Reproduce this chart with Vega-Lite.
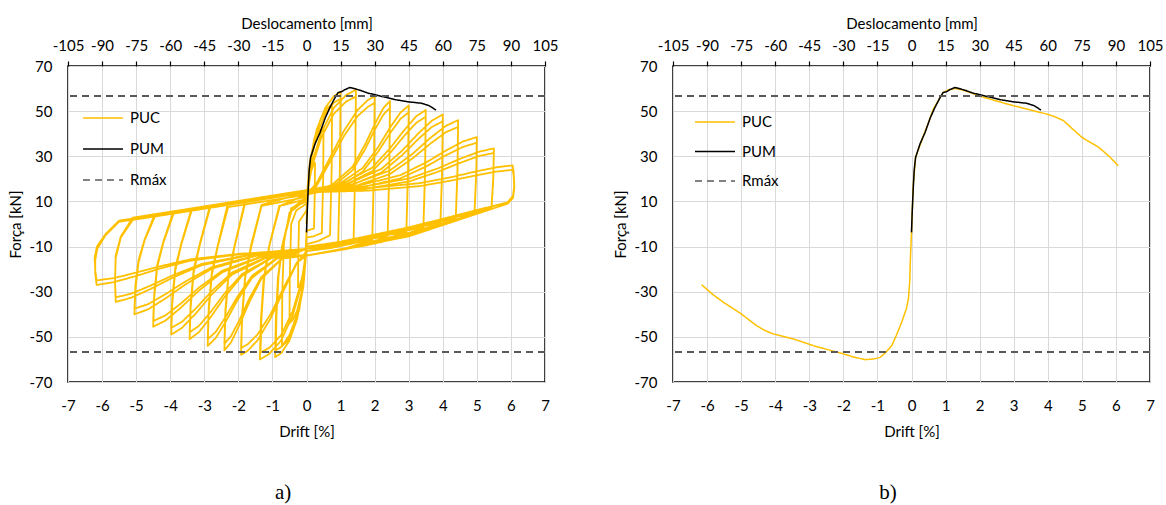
{
"$schema": "https://vega.github.io/schema/vega-lite/v6.json",
"background": "white",
"padding": {"left": 7, "top": 15, "right": 5, "bottom": 5},
"bounds": "flush",
"spacing": 128,
"config": {
 "font": "Lato",
 "view": {"stroke": "black", "strokeWidth": 1.5},
 "axis": {"labelFont": "Lato", "labelFontSize": 15, "labelColor": "#000000", "labelOverlap": false, "labelFlush": false, "labelExpr": "'' + datum.value", "titleFont": "Lato", "titleFontSize": 15, "titleFontWeight": "normal", "titleColor": "#000000", "gridColor": "#d9d9d9", "gridWidth": 1, "domain": false, "ticks": false},
 "legend": {"title": null, "orient": "none", "symbolType": "stroke", "symbolSize": 1600, "symbolStrokeWidth": 1.6, "labelFont": "Lato", "labelFontSize": 15, "labelColor": "#000000", "labelOffset": 6, "rowPadding": 2, "padding": 0}
},
"resolve": {"scale": {"color": "independent", "strokeDash": "independent"}},
"datasets": {
 "puc": [
{"x":0,"y":0},
{"x":0.025,"y":11.4},{"x":0.075,"y":18.6},{"x":0.1375,"y":23.4},{"x":0.2,"y":26},{"x":0.25,"y":27},{"x":0.24,"y":12},{"x":0.22,"y":-2},{"x":0,"y":-3},{"x":-0.025,"y":-11.75},{"x":-0.075,"y":-19.25},{"x":-0.1375,"y":-24.25},{"x":-0.2,"y":-27},{"x":-0.25,"y":-28},{"x":-0.24,"y":-14},{"x":-0.22,"y":1},{"x":0,"y":6},
{"x":0.05,"y":18.95},{"x":0.15,"y":30.05},{"x":0.275,"y":37.45},{"x":0.4,"y":41.5},{"x":0.5,"y":43},{"x":0.49,"y":20},{"x":0.45,"y":-4},{"x":0.2,"y":-5.5},{"x":0,"y":-6},{"x":-0.05,"y":-19.3},{"x":-0.15,"y":-30.7},{"x":-0.275,"y":-38.3},{"x":-0.4,"y":-42.5},{"x":-0.5,"y":-44},{"x":-0.49,"y":-22},{"x":-0.45,"y":0},{"x":-0.3,"y":6},{"x":0,"y":9},
{"x":0.075,"y":24.4},{"x":0.225,"y":37.6},{"x":0.4125,"y":46.4},{"x":0.6,"y":51.2},{"x":0.75,"y":53},{"x":0.74,"y":25},{"x":0.69,"y":-5},{"x":0.35,"y":-7.5},{"x":0,"y":-9},{"x":-0.072,"y":-24.75},{"x":-0.216,"y":-38.25},{"x":-0.396,"y":-47.25},{"x":-0.576,"y":-52.2},{"x":-0.72,"y":-54},{"x":-0.71,"y":-30},{"x":-0.66,"y":-8},{"x":-0.5,"y":5},{"x":0,"y":11},
{"x":0.1,"y":27.6},{"x":0.3,"y":41.9},{"x":0.55,"y":51.4},{"x":0.8,"y":56.6},{"x":1,"y":58.5},{"x":0.98,"y":25},{"x":0.93,"y":-8.5},{"x":0.5,"y":-10},{"x":0,"y":-11},{"x":-0.092,"y":-27.8},{"x":-0.276,"y":-42.2},{"x":-0.506,"y":-51.8},{"x":-0.736,"y":-57.1},{"x":-0.92,"y":-59},{"x":-0.9,"y":-42},{"x":-0.84,"y":-24},{"x":-0.72,"y":-10},{"x":-0.45,"y":7},{"x":0,"y":10},
{"x":0.1,"y":25.9},{"x":0.3,"y":39.6},{"x":0.55,"y":48.7},{"x":0.8,"y":53.7},{"x":1,"y":55.5},{"x":0.98,"y":24},{"x":0.93,"y":-8},{"x":0.5,"y":-9},{"x":0,"y":-10},{"x":-0.09,"y":-26.1},{"x":-0.27,"y":-39.9},{"x":-0.495,"y":-49.1},{"x":-0.72,"y":-54.2},{"x":-0.9,"y":-56},{"x":-0.88,"y":-40},{"x":-0.82,"y":-23},{"x":-0.7,"y":-9},{"x":-0.42,"y":7},{"x":0,"y":12},
{"x":0.145,"y":26.25},{"x":0.435,"y":40.5},{"x":0.8,"y":51.4},{"x":1.16,"y":57.1},{"x":1.45,"y":59.5},{"x":1.43,"y":25},{"x":1.38,"y":-8.5},{"x":0.7,"y":-10.7},{"x":0,"y":-12},{"x":-0.137,"y":-26.4},{"x":-0.411,"y":-40.8},{"x":-0.754,"y":-51.8},{"x":-1.096,"y":-57.6},{"x":-1.37,"y":-60},{"x":-1.34,"y":-43},{"x":-1.26,"y":-25},{"x":-1.1,"y":-10},{"x":-0.8,"y":8},{"x":0,"y":11},
{"x":0.145,"y":24.65},{"x":0.435,"y":38.3},{"x":0.8,"y":48.8},{"x":1.16,"y":54.2},{"x":1.45,"y":56.5},{"x":1.43,"y":24},{"x":1.38,"y":-8},{"x":0.7,"y":-10},{"x":0,"y":-11},{"x":-0.135,"y":-24.8},{"x":-0.405,"y":-38.6},{"x":-0.743,"y":-49.2},{"x":-1.08,"y":-54.7},{"x":-1.35,"y":-57},{"x":-1.32,"y":-41},{"x":-1.24,"y":-24},{"x":-1.08,"y":-9},{"x":-0.78,"y":8},{"x":0,"y":13},
{"x":0.3,"y":18.2},{"x":0.7,"y":29.6},{"x":1.1,"y":41.3},{"x":1.5,"y":50.5},{"x":1.8,"y":54.9},{"x":2,"y":56.6},{"x":1.98,"y":25},{"x":1.93,"y":-6.8},{"x":1,"y":-9.7},{"x":0,"y":-12},{"x":-0.288,"y":-17.5},{"x":-0.672,"y":-29.5},{"x":-1.056,"y":-41.9},{"x":-1.44,"y":-51.6},{"x":-1.728,"y":-56.2},{"x":-1.92,"y":-58},{"x":-1.89,"y":-42},{"x":-1.8,"y":-24},{"x":-1.62,"y":-10},{"x":-1.32,"y":8},{"x":0,"y":12},
{"x":0.3,"y":17},{"x":0.7,"y":27.8},{"x":1.1,"y":39},{"x":1.5,"y":47.8},{"x":1.8,"y":51.9},{"x":2,"y":53.6},{"x":1.98,"y":23},{"x":1.93,"y":-7},{"x":1,"y":-11.5},{"x":0,"y":-14},{"x":-0.288,"y":-17.2},{"x":-0.672,"y":-28.3},{"x":-1.056,"y":-40},{"x":-1.44,"y":-49},{"x":-1.728,"y":-53.3},{"x":-1.92,"y":-55},{"x":-1.89,"y":-40},{"x":-1.8,"y":-23},{"x":-1.62,"y":-9},{"x":-1.32,"y":8.5},{"x":0,"y":14},
{"x":0.735,"y":17.2},{"x":1.35,"y":25.3},{"x":1.715,"y":35.1},{"x":2.01,"y":44.4},{"x":2.254,"y":51.3},{"x":2.45,"y":54.5},{"x":2.43,"y":25},{"x":2.38,"y":-5.5},{"x":1.2,"y":-8},{"x":0,"y":-11},{"x":-0.723,"y":-15.5},{"x":-1.326,"y":-24.3},{"x":-1.687,"y":-34.9},{"x":-1.976,"y":-45},{"x":-2.217,"y":-52.5},{"x":-2.41,"y":-56},{"x":-2.38,"y":-40},{"x":-2.29,"y":-23.5},{"x":-2.11,"y":-10},{"x":-1.81,"y":8.7},{"x":-0.9,"y":10.8},{"x":0,"y":13},
{"x":0.735,"y":16.1},{"x":1.35,"y":23.8},{"x":1.715,"y":33},{"x":2.01,"y":41.9},{"x":2.254,"y":48.4},{"x":2.45,"y":51.5},{"x":2.43,"y":23},{"x":2.38,"y":-5.8},{"x":1.2,"y":-11},{"x":0,"y":-14},{"x":-0.723,"y":-15.3},{"x":-1.326,"y":-23.5},{"x":-1.687,"y":-33.3},{"x":-1.976,"y":-42.8},{"x":-2.217,"y":-49.7},{"x":-2.41,"y":-53},{"x":-2.38,"y":-38},{"x":-2.29,"y":-22},{"x":-2.11,"y":-9.5},{"x":-1.81,"y":9.7},{"x":-0.9,"y":11.8},{"x":0,"y":14},
{"x":0.9,"y":17.1},{"x":1.65,"y":24.8},{"x":2.1,"y":34},{"x":2.46,"y":42.9},{"x":2.76,"y":49.4},{"x":3,"y":52.5},{"x":2.98,"y":24},{"x":2.93,"y":-3.5},{"x":1.5,"y":-7},{"x":0,"y":-11},{"x":-0.87,"y":-15.4},{"x":-1.595,"y":-23.8},{"x":-2.03,"y":-33.8},{"x":-2.378,"y":-43.5},{"x":-2.668,"y":-50.6},{"x":-2.9,"y":-54},{"x":-2.87,"y":-39},{"x":-2.78,"y":-22.7},{"x":-2.6,"y":-9.7},{"x":-2.3,"y":7.5},{"x":-1.15,"y":10.2},{"x":0,"y":13},
{"x":0.9,"y":15.9},{"x":1.65,"y":23.2},{"x":2.1,"y":32},{"x":2.46,"y":40.4},{"x":2.76,"y":46.6},{"x":3,"y":49.5},{"x":2.98,"y":22},{"x":2.93,"y":-3.8},{"x":1.5,"y":-10},{"x":0,"y":-14},{"x":-0.87,"y":-15.1},{"x":-1.595,"y":-22.9},{"x":-2.03,"y":-32.3},{"x":-2.378,"y":-41.3},{"x":-2.668,"y":-47.9},{"x":-2.9,"y":-51},{"x":-2.87,"y":-37},{"x":-2.78,"y":-21.4},{"x":-2.6,"y":-9.2},{"x":-2.3,"y":9.5},{"x":-1.15,"y":12.2},{"x":0,"y":15},
{"x":1.05,"y":17.8},{"x":1.925,"y":24.9},{"x":2.45,"y":33.5},{"x":2.87,"y":41.6},{"x":3.22,"y":47.7},{"x":3.5,"y":50.5},{"x":3.48,"y":24},{"x":3.43,"y":-1.6},{"x":1.75,"y":-6},{"x":0,"y":-11},{"x":-1.029,"y":-15.1},{"x":-1.887,"y":-22.9},{"x":-2.401,"y":-32.3},{"x":-2.813,"y":-41.3},{"x":-3.156,"y":-47.9},{"x":-3.43,"y":-51},{"x":-3.4,"y":-37},{"x":-3.31,"y":-21.4},{"x":-3.13,"y":-9.2},{"x":-2.83,"y":7.2},{"x":-1.4,"y":10.6},{"x":0,"y":14},
{"x":1.05,"y":16.7},{"x":1.925,"y":23.4},{"x":2.45,"y":31.4},{"x":2.87,"y":39.1},{"x":3.22,"y":44.8},{"x":3.5,"y":47.5},{"x":3.48,"y":22},{"x":3.43,"y":-2},{"x":1.75,"y":-9.5},{"x":0,"y":-14},{"x":-1.029,"y":-14.9},{"x":-1.887,"y":-22.1},{"x":-2.401,"y":-30.7},{"x":-2.813,"y":-39},{"x":-3.156,"y":-45.1},{"x":-3.43,"y":-48},{"x":-3.4,"y":-35},{"x":-3.31,"y":-20},{"x":-3.13,"y":-8.6},{"x":-2.83,"y":8.2},{"x":-1.4,"y":11.6},{"x":0,"y":15},
{"x":1.2,"y":17.7},{"x":2.2,"y":24.4},{"x":2.8,"y":32.4},{"x":3.28,"y":40.1},{"x":3.68,"y":45.8},{"x":4,"y":48.5},{"x":3.98,"y":24},{"x":3.93,"y":0.5},{"x":2,"y":-5},{"x":0,"y":-11},{"x":-1.191,"y":-15},{"x":-2.184,"y":-22.4},{"x":-2.779,"y":-31.2},{"x":-3.255,"y":-39.75},{"x":-3.652,"y":-46},{"x":-3.97,"y":-49},{"x":-3.94,"y":-35.5},{"x":-3.85,"y":-20.6},{"x":-3.67,"y":-8.8},{"x":-3.37,"y":5.9},{"x":-1.7,"y":9.9},{"x":0,"y":14},
{"x":1.2,"y":16.5},{"x":2.2,"y":22.8},{"x":2.8,"y":30.4},{"x":3.28,"y":37.6},{"x":3.68,"y":43},{"x":4,"y":45.5},{"x":3.98,"y":22},{"x":3.93,"y":0.2},{"x":2,"y":-8.7},{"x":0,"y":-14},{"x":-1.191,"y":-14.7},{"x":-2.184,"y":-21.5},{"x":-2.779,"y":-29.7},{"x":-3.255,"y":-37.5},{"x":-3.652,"y":-43.3},{"x":-3.97,"y":-46},{"x":-3.94,"y":-33},{"x":-3.85,"y":-19.3},{"x":-3.67,"y":-8.3},{"x":-3.37,"y":6.9},{"x":-1.7,"y":10.9},{"x":0,"y":15},
{"x":1.335,"y":17.5},{"x":2.448,"y":23.7},{"x":3.115,"y":31.1},{"x":3.649,"y":38.3},{"x":4.094,"y":43.5},{"x":4.45,"y":46},{"x":4.43,"y":24},{"x":4.38,"y":2.4},{"x":2.2,"y":-4.5},{"x":0,"y":-11},{"x":-1.35,"y":-14.7},{"x":-2.475,"y":-21.4},{"x":-3.15,"y":-29.4},{"x":-3.69,"y":-37.1},{"x":-4.14,"y":-42.8},{"x":-4.5,"y":-45.5},{"x":-4.47,"y":-33},{"x":-4.38,"y":-19},{"x":-4.2,"y":-8.2},{"x":-3.9,"y":4.6},{"x":-2,"y":9.2},{"x":0,"y":14},
{"x":1.335,"y":16.3},{"x":2.448,"y":22.1},{"x":3.115,"y":29.1},{"x":3.649,"y":35.75},{"x":4.094,"y":40.7},{"x":4.45,"y":43},{"x":4.43,"y":22},{"x":4.38,"y":2},{"x":2.2,"y":-8},{"x":0,"y":-14},{"x":-1.35,"y":-14.5},{"x":-2.475,"y":-20.7},{"x":-3.15,"y":-28.1},{"x":-3.69,"y":-35.25},{"x":-4.14,"y":-40.5},{"x":-4.5,"y":-43},{"x":-4.47,"y":-31},{"x":-4.38,"y":-18},{"x":-4.2,"y":-7.7},{"x":-3.9,"y":5.6},{"x":-2,"y":10.2},{"x":0,"y":15},
{"x":1.5,"y":16.9},{"x":2.75,"y":21.6},{"x":3.5,"y":27.2},{"x":4.1,"y":32.6},{"x":4.6,"y":36.6},{"x":5,"y":38.5},{"x":4.98,"y":22},{"x":4.93,"y":5},{"x":2.5,"y":-3.5},{"x":0,"y":-11},{"x":-1.515,"y":-14.2},{"x":-2.778,"y":-19.8},{"x":-3.535,"y":-26.6},{"x":-4.141,"y":-33},{"x":-4.646,"y":-37.8},{"x":-5.05,"y":-40},{"x":-5.02,"y":-29},{"x":-4.93,"y":-17},{"x":-4.75,"y":-7.2},{"x":-4.45,"y":3.3},{"x":-2.2,"y":8.7},{"x":0,"y":14},
{"x":1.5,"y":15.8},{"x":2.75,"y":20.2},{"x":3.5,"y":25.4},{"x":4.1,"y":30.5},{"x":4.6,"y":34.2},{"x":5,"y":36},{"x":4.98,"y":21},{"x":4.93,"y":4.6},{"x":2.5,"y":-7},{"x":0,"y":-14},{"x":-1.515,"y":-14},{"x":-2.778,"y":-19.1},{"x":-3.535,"y":-25.3},{"x":-4.141,"y":-31.1},{"x":-4.646,"y":-35.5},{"x":-5.05,"y":-37.5},{"x":-5.02,"y":-27},{"x":-4.93,"y":-16},{"x":-4.75,"y":-6.8},{"x":-4.45,"y":4.3},{"x":-2.2,"y":9.7},{"x":0,"y":15},
{"x":1.65,"y":16.5},{"x":3.025,"y":20.2},{"x":3.85,"y":24.6},{"x":4.51,"y":28.9},{"x":5.06,"y":32},{"x":5.5,"y":33.5},{"x":5.48,"y":20},{"x":5.43,"y":7.5},{"x":2.75,"y":-2.5},{"x":0,"y":-11},{"x":-1.68,"y":-13.8},{"x":-3.08,"y":-18.3},{"x":-3.92,"y":-23.7},{"x":-4.592,"y":-28.9},{"x":-5.152,"y":-32.7},{"x":-5.6,"y":-34.5},{"x":-5.62,"y":-26},{"x":-5.6,"y":-15},{"x":-5.45,"y":-6},{"x":-5.1,"y":1.8},{"x":-2.5,"y":8},{"x":0,"y":14},
{"x":1.65,"y":15.4},{"x":3.025,"y":18.9},{"x":3.85,"y":23.1},{"x":4.51,"y":27.1},{"x":5.06,"y":30.1},{"x":5.5,"y":31.5},{"x":5.48,"y":19},{"x":5.43,"y":7.2},{"x":2.75,"y":-6.2},{"x":0,"y":-14},{"x":-1.68,"y":-13.6},{"x":-3.08,"y":-17.7},{"x":-3.92,"y":-22.7},{"x":-4.592,"y":-27.4},{"x":-5.152,"y":-30.9},{"x":-5.6,"y":-32.5},{"x":-5.62,"y":-25},{"x":-5.6,"y":-14},{"x":-5.45,"y":-5.5},{"x":-5.1,"y":2.8},{"x":-2.5,"y":9},{"x":0,"y":15},
{"x":1.815,"y":15.9},{"x":3.328,"y":18.1},{"x":4.235,"y":20.7},{"x":4.961,"y":23.25},{"x":5.566,"y":25.1},{"x":6.05,"y":26},{"x":6.08,"y":23},{"x":6.1,"y":17},{"x":6.06,"y":12.5},{"x":5.9,"y":9.6},{"x":3,"y":-1.5},{"x":0,"y":-11},{"x":-1.848,"y":-13.2},{"x":-3.388,"y":-16.2},{"x":-4.312,"y":-19.8},{"x":-5.051,"y":-23.25},{"x":-5.667,"y":-25.8},{"x":-6.16,"y":-27},{"x":-6.2,"y":-22},{"x":-6.2,"y":-16},{"x":-6.14,"y":-11},{"x":-5.9,"y":-5},{"x":-5.5,"y":1},{"x":-2.7,"y":7.5},{"x":0,"y":14},
{"x":1.815,"y":14.8},{"x":3.328,"y":16.8},{"x":4.235,"y":19.2},{"x":4.961,"y":21.5},{"x":5.566,"y":23.2},{"x":6.05,"y":24},{"x":6.08,"y":21.5},{"x":6.1,"y":16},{"x":6.06,"y":11.5},{"x":5.9,"y":9},{"x":3,"y":-5.5},{"x":0,"y":-14},{"x":-1.848,"y":-13},{"x":-3.388,"y":-15.6},{"x":-4.312,"y":-18.8},{"x":-5.051,"y":-21.75},{"x":-5.667,"y":-24},{"x":-6.16,"y":-25},{"x":-6.2,"y":-20.5},{"x":-6.22,"y":-15},{"x":-6.15,"y":-10},{"x":-5.9,"y":-4.5},{"x":-5.5,"y":1.5},{"x":-2.7,"y":8},{"x":0,"y":14.5}
 ],
 "pum": [
{"x":0,"y":-3.7},{"x":0.02,"y":5},{"x":0.05,"y":15.5},{"x":0.08,"y":24},{"x":0.12,"y":29.5},{"x":0.25,"y":35.5},{"x":0.4,"y":40.6},{"x":0.55,"y":47},{"x":0.69,"y":51.7},{"x":0.82,"y":55.5},{"x":0.93,"y":58.3},{"x":1.03,"y":58.6},{"x":1.12,"y":59.5},{"x":1.28,"y":60.5},{"x":1.45,"y":59.8},{"x":1.62,"y":59},{"x":1.8,"y":58},{"x":2.01,"y":57.3},{"x":2.3,"y":56.2},{"x":2.6,"y":55.1},{"x":3,"y":54.1},{"x":3.38,"y":53.5},{"x":3.6,"y":52.4},{"x":3.8,"y":50.5}
 ],
 "env": [
{"x":-6.16,"y":-26.9},{"x":-5.85,"y":-31},{"x":-5.52,"y":-34.7},{"x":-5.25,"y":-37.3},{"x":-4.99,"y":-39.9},{"x":-4.75,"y":-42.7},{"x":-4.55,"y":-45},{"x":-4.3,"y":-47.2},{"x":-4.06,"y":-48.7},{"x":-3.47,"y":-50.9},{"x":-2.88,"y":-53.9},{"x":-2.5,"y":-55.5},{"x":-2.1,"y":-57.1},{"x":-1.7,"y":-58.9},{"x":-1.37,"y":-60.1},{"x":-1.1,"y":-59.8},{"x":-0.92,"y":-59.1},{"x":-0.75,"y":-56.8},{"x":-0.58,"y":-53.9},{"x":-0.45,"y":-49.5},{"x":-0.29,"y":-43.6},{"x":-0.15,"y":-37.5},{"x":-0.09,"y":-33.2},{"x":-0.05,"y":-25},{"x":-0.04,"y":-18.5},{"x":0,"y":-3.7},{"x":0.05,"y":17},{"x":0.12,"y":29.5},{"x":0.35,"y":39.1},{"x":0.5,"y":45},{"x":0.64,"y":50.9},{"x":0.8,"y":55},{"x":0.93,"y":58.3},{"x":1.1,"y":59.5},{"x":1.28,"y":60.1},{"x":1.5,"y":59.3},{"x":1.72,"y":58.3},{"x":2.01,"y":56.6},{"x":2.5,"y":54.5},{"x":2.99,"y":52.4},{"x":3.5,"y":50.5},{"x":3.97,"y":48.7},{"x":4.2,"y":47.6},{"x":4.46,"y":45.8},{"x":4.7,"y":42.5},{"x":5,"y":38.4},{"x":5.25,"y":36.2},{"x":5.49,"y":34},{"x":5.8,"y":30},{"x":6.07,"y":25.8}
 ],
 "rmax": [{"y":56.7},{"y":-56.7}],
 "mm": [{"mm":-105},{"mm":105}]
},
"hconcat": [
 {
  "width": 477, "height": 316,
  "title": {"text": "a)", "orient": "bottom", "frame": "bounds", "anchor": "middle", "font": "Liberation Serif", "fontSize": 21, "fontWeight": "normal", "color": "#000000", "offset": 43},
  "layer": [
   {
    "layer": [
     {"data": {"name": "puc"}, "mark": {"type": "line", "strokeWidth": 1.8, "strokeJoin": "round"},
      "encoding": {
       "x": {"field": "x", "type": "quantitative", "scale": {"domain": [-7, 7], "nice": false, "zero": false}, "axis": {"orient": "bottom", "values": [-7,-6,-5,-4,-3,-2,-1,0,1,2,3,4,5,6,7], "title": "Drift [%]", "grid": true, "labelOverlap": false, "labelFlush": false, "labelPadding": 16, "titlePadding": 11}},
       "y": {"field": "y", "type": "quantitative", "scale": {"domain": [-70, 70], "nice": false, "zero": false}, "axis": {"values": [-70,-50,-30,-10,10,30,50,70], "title": "Força [kN]", "grid": true, "labelOverlap": false, "labelFlush": false, "labelPadding": 16, "titlePadding": 6}},
       "color": {"datum": "PUC", "type": "nominal", "scale": {"domain": ["PUC","PUM","Rmáx"], "range": ["#FFC000","#000000","#595959"]}, "legend": {"legendX": 14, "legendY": 31}},
       "strokeDash": {"datum": "PUC", "type": "nominal", "scale": {"domain": ["PUC","PUM","Rmáx"], "range": [[1,0],[1,0],[7,5]]}, "legend": {"legendX": 14, "legendY": 31}},
       "order": {"value": null}
      }},
     {"data": {"name": "pum"}, "mark": {"type": "line", "strokeWidth": 1.5, "strokeJoin": "round"},
      "encoding": {
       "x": {"field": "x", "type": "quantitative", "axis": {"orient": "bottom", "values": [-7,-6,-5,-4,-3,-2,-1,0,1,2,3,4,5,6,7], "title": "Drift [%]", "grid": true, "labelOverlap": false, "labelFlush": false, "labelPadding": 16, "titlePadding": 11}},
       "y": {"field": "y", "type": "quantitative", "axis": {"values": [-70,-50,-30,-10,10,30,50,70], "title": "Força [kN]", "grid": true, "labelOverlap": false, "labelFlush": false, "labelPadding": 16, "titlePadding": 6}},
       "color": {"datum": "PUM", "type": "nominal"},
       "strokeDash": {"datum": "PUM", "type": "nominal"},
       "order": {"value": null}
      }},
     {"data": {"name": "rmax"}, "mark": {"type": "rule", "strokeWidth": 2},
      "encoding": {
       "y": {"field": "y", "type": "quantitative", "axis": {"values": [-70,-50,-30,-10,10,30,50,70], "title": "Força [kN]", "grid": true, "labelOverlap": false, "labelFlush": false, "labelPadding": 16, "titlePadding": 6}},
       "color": {"datum": "Rmáx", "type": "nominal"},
       "strokeDash": {"datum": "Rmáx", "type": "nominal"}
      }}
    ]
   },
   {"data": {"name": "mm"}, "mark": {"type": "point", "opacity": 0},
    "encoding": {"x": {"field": "mm", "type": "quantitative", "scale": {"domain": [-105, 105], "nice": false, "zero": false}, "axis": {"orient": "top", "values": [-105,-90,-75,-60,-45,-30,-15,0,15,30,45,60,75,90,105], "title": "Deslocamento [mm]", "grid": false, "labelOverlap": false, "labelFlush": false, "ticks": true, "tickSize": 5, "tickColor": "#000000", "tickWidth": 1.2, "labelPadding": 8, "titlePadding": 7}}}}
  ],
  "resolve": {"scale": {"x": "independent"}}
 },
 {
  "width": 477, "height": 316,
  "title": {"text": "b)", "orient": "bottom", "frame": "bounds", "anchor": "middle", "font": "Liberation Serif", "fontSize": 21, "fontWeight": "normal", "color": "#000000", "offset": 43},
  "layer": [
   {
    "layer": [
     {"data": {"name": "env"}, "mark": {"type": "line", "strokeWidth": 1.5, "strokeJoin": "round"},
      "encoding": {
       "x": {"field": "x", "type": "quantitative", "scale": {"domain": [-7, 7], "nice": false, "zero": false}, "axis": {"orient": "bottom", "values": [-7,-6,-5,-4,-3,-2,-1,0,1,2,3,4,5,6,7], "title": "Drift [%]", "grid": true, "labelOverlap": false, "labelFlush": false, "labelPadding": 16, "titlePadding": 11}},
       "y": {"field": "y", "type": "quantitative", "scale": {"domain": [-70, 70], "nice": false, "zero": false}, "axis": {"values": [-70,-50,-30,-10,10,30,50,70], "title": "Força [kN]", "grid": true, "labelOverlap": false, "labelFlush": false, "labelPadding": 16, "titlePadding": 6}},
       "color": {"datum": "PUC", "type": "nominal", "scale": {"domain": ["PUC","PUM","Rmáx"], "range": ["#FFC000","#000000","#595959"]}, "legend": {"legendX": 21, "legendY": 35, "rowPadding": 0.5}},
       "strokeDash": {"datum": "PUC", "type": "nominal", "scale": {"domain": ["PUC","PUM","Rmáx"], "range": [[1,0],[1,0],[7,5]]}, "legend": {"legendX": 21, "legendY": 35, "rowPadding": 0.5}},
       "order": {"value": null}
      }},
     {"data": {"name": "pum"}, "mark": {"type": "line", "strokeWidth": 1.5, "strokeJoin": "round"},
      "encoding": {
       "x": {"field": "x", "type": "quantitative", "axis": {"orient": "bottom", "values": [-7,-6,-5,-4,-3,-2,-1,0,1,2,3,4,5,6,7], "title": "Drift [%]", "grid": true, "labelOverlap": false, "labelFlush": false, "labelPadding": 16, "titlePadding": 11}},
       "y": {"field": "y", "type": "quantitative", "axis": {"values": [-70,-50,-30,-10,10,30,50,70], "title": "Força [kN]", "grid": true, "labelOverlap": false, "labelFlush": false, "labelPadding": 16, "titlePadding": 6}},
       "color": {"datum": "PUM", "type": "nominal"},
       "strokeDash": {"datum": "PUM", "type": "nominal"},
       "order": {"value": null}
      }},
     {"data": {"name": "rmax"}, "mark": {"type": "rule", "strokeWidth": 2},
      "encoding": {
       "y": {"field": "y", "type": "quantitative", "axis": {"values": [-70,-50,-30,-10,10,30,50,70], "title": "Força [kN]", "grid": true, "labelOverlap": false, "labelFlush": false, "labelPadding": 16, "titlePadding": 6}},
       "color": {"datum": "Rmáx", "type": "nominal"},
       "strokeDash": {"datum": "Rmáx", "type": "nominal"}
      }}
    ]
   },
   {"data": {"name": "mm"}, "mark": {"type": "point", "opacity": 0},
    "encoding": {"x": {"field": "mm", "type": "quantitative", "scale": {"domain": [-105, 105], "nice": false, "zero": false}, "axis": {"orient": "top", "values": [-105,-90,-75,-60,-45,-30,-15,0,15,30,45,60,75,90,105], "title": "Deslocamento [mm]", "grid": false, "labelOverlap": false, "labelFlush": false, "ticks": true, "tickSize": 5, "tickColor": "#000000", "tickWidth": 1.2, "labelPadding": 8, "titlePadding": 7}}}}
  ],
  "resolve": {"scale": {"x": "independent"}}
 }
]
}
